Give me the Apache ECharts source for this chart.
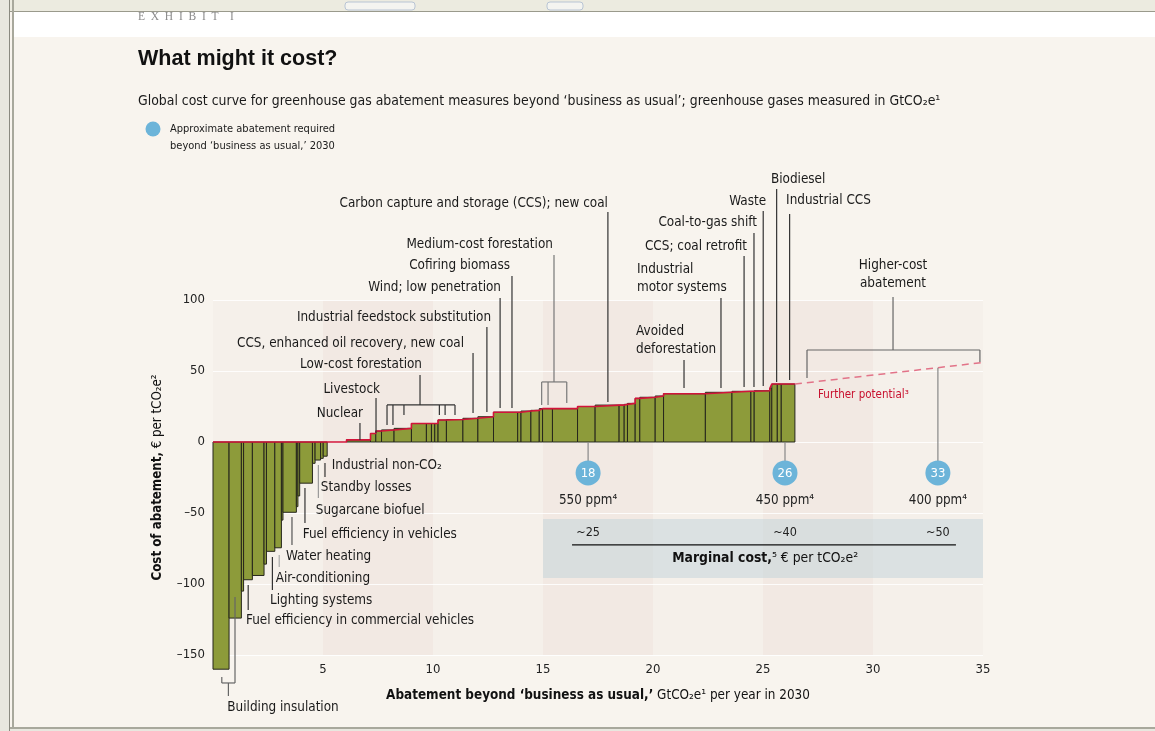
<!DOCTYPE html>
<html><head><meta charset="utf-8">
<script src="https://cdn.jsdelivr.net/npm/echarts@6/dist/echarts.min.js"></script>
<style>html,body{margin:0;padding:0;background:#f8f4ee}#c{width:1155px;height:731px}</style>
</head><body><div id="c"></div><script>
// ---------------- DATA ----------------
// abatement measures in curve order: width (GtCO2e per year) and cost (EUR per tCO2e)
const measureWidths = [0.73,0.56,0.10,0.40,0.53,0.11,0.38,0.30,0.07,0.61,0.07,0.08,0.58,0.12,0.25,0.12,0.18,
  0.88,
  1.09,0.24,0.26,0.57,0.79,0.68,0.23,0.15,0.15,0.38,0.75,0.68,0.71,1.10,0.15,0.45,0.38,0.15,0.45,1.14,0.80,1.09,0.23,0.15,
  0.35,0.21,0.70,0.38,1.90,1.21,0.86,0.15,0.71,0.09,0.25,0.18,0.62];
const measureCosts = [-160,-124,-105,-97,-94,-86,-77,-74.5,-55,-49.5,-45.5,-38,-29,-15,-12.7,-11.5,-10,
  0,
  1.5,6,7.7,8.5,9.6,13,13,13,13,15.5,15.8,16.7,17.8,21,21,21.8,22.3,23.5,23.5,23.5,25,26,26,26.5,
  27.2,30.7,31.5,32.4,34,35,35.7,35.7,36.1,37.8,40.8,40.8,40.8];
const furtherPotentialX = [26.45, 35];
const furtherPotentialY = [40.8, 56];
const requiredPos = [17.05, 26, 32.95];
const requiredLabels = ['18', '26', '33'];
const ppmLabels = ['550 ppm⁴', '450 ppm⁴', '400 ppm⁴'];
const marginalLabels = ['~25', '~40', '~50'];
const bandEdges = [0, 5, 10, 15, 20, 25, 30, 35];

// ---------------- LAYOUT (annotations, in data units) ----------------
const notes = [
 {t:'Nuclear', x:6.82, y:20.4, al:'right', v:[[6.68,13.4,1.4]]},
 {t:'Livestock', x:7.59, y:37.3, al:'right', v:[[7.41,31,6.3]]},
 {t:'Low-cost forestation', x:9.5, y:54.9, al:'right', v:[[9.41,47.2,26.1],[7.91,26.1,12],[8.18,26.1,12],[8.68,26.1,19],[10.29,26.1,19],[10.55,26.1,19],[11.0,26.1,19]], h:[[7.91,11.0,26.1]]},
 {t:'CCS, enhanced oil recovery, new coal', x:11.41, y:69.7, al:'right', v:[[11.82,62.7,20.4]]},
 {t:'Industrial feedstock substitution', x:12.64, y:88, al:'right', v:[[12.45,81,21.1]]},
 {t:'Wind; low penetration', x:13.09, y:108.5, al:'right', v:[[13.05,101.4,23.9]]},
 {t:'Cofiring biomass', x:13.5, y:124.6, al:'right', v:[[13.59,116.9,23.9]]},
 {t:'Medium-cost forestation', x:15.45, y:139.4, al:'right', v:[[15.5,131.7,42.3],[14.94,42.3,26.1],[15.23,42.3,26.1],[16.08,42.3,27.5]], h:[[14.94,16.08,42.3]], c:'#777'},
 {t:'Carbon capture and storage (CCS); new coal', x:17.95, y:167.6, al:'right', v:[[17.95,162,28.2]]},
 {t:'Avoided\ndeforestation', x:19.23, y:71.2, al:'left', v:[[21.41,57.7,38]]},
 {t:'Industrial\nmotor systems', x:19.27, y:114.8, al:'left', v:[[23.09,101.4,38]]},
 {t:'CCS; coal retrofit', x:24.27, y:138, al:'right', v:[[24.14,131,38.7]]},
 {t:'Coal-to-gas shift', x:24.73, y:154.9, al:'right', v:[[24.59,147.2,38.7]]},
 {t:'Waste', x:25.14, y:169.7, al:'right', v:[[25.01,162.7,39.4]]},
 {t:'Biodiesel', x:25.36, y:185.2, al:'left', v:[[25.62,178.2,42.3]]},
 {t:'Industrial CCS', x:26.05, y:170.4, al:'left', v:[[26.21,160.6,43.7]]},
 {t:'Higher-cost\nabatement', x:30.91, y:117.9, al:'center', v:[[30.91,102.1,64.8],[27,64.8,45.1],[34.86,64.8,56.3]], h:[[27,34.86,64.8]], c:'#666'},
 {t:'Industrial non-CO₂', x:5.4, y:-16.7, al:'left', v:[[5.09,-14.8,-24.6]]},
 {t:'Standby losses', x:4.9, y:-32.4, al:'left', v:[[4.79,-16.2,-39.4]], c:'#999'},
 {t:'Sugarcane biofuel', x:4.67, y:-48.6, al:'left', v:[]},
 {t:'Fuel efficiency in vehicles', x:4.08, y:-65.5, al:'left', v:[[4.18,-32.4,-57]]},
 {t:'Water heating', x:3.32, y:-80.3, al:'left', v:[[3.59,-52.8,-72.5]], c:'#555'},
 {t:'Air-conditioning', x:2.85, y:-95.8, al:'left', v:[[3.01,-79.6,-88]], c:'#aaa'},
 {t:'Lighting systems', x:2.59, y:-111.3, al:'left', v:[[2.7,-81,-104.2]]},
 {t:'Fuel efficiency in commercial vehicles', x:1.5, y:-126, al:'left', v:[[1.6,-100.7,-118.3]]},
 {t:'Building insulation', x:0.65, y:-187.3, al:'left', v:[[1.0,-109.2,-169.7],[0.4,-165.5,-169.7],[0.7,-169.7,-178.9]], h:[[0.4,1.0,-169.7]], c:'#666'}
];
const marginalBox = {x0:15, x1:35, y0:-54.2, y1:-95.8, lineY:-72.5, lineX0:16.32, lineX1:33.77, labelY:-64.1, titleX:25.1, titleY:-81.7};
const markerY = -21.8, ppmY = -41.5;

// ---------------- BUILD ----------------
const FONT = '"Liberation Sans Narrow","DejaVu Sans Condensed","Arial Narrow",sans-serif';
const NOTE_SIZE = 13.4;
const barData = [];
const stepData = [];
let cum = 0;
measureWidths.forEach((w, i) => {
  const c = measureCosts[i];
  barData.push([cum, cum + w, c]);
  stepData.push([cum, Math.max(0, c)], [cum + w, Math.max(0, c)]);
  cum += w;
});
const curveEnd = cum;
function furtherAt(x) {
  return furtherPotentialY[0] + (x - furtherPotentialX[0]) / (furtherPotentialX[1] - furtherPotentialX[0]) * (furtherPotentialY[1] - furtherPotentialY[0]);
}
const bandData = [];
for (let i = 0; i < bandEdges.length - 1; i++) bandData.push([bandEdges[i], bandEdges[i + 1], i % 2]);

function line(a, b, color, w) {
  return {type:'line', shape:{x1:a[0], y1:a[1], x2:b[0], y2:b[1]}, style:{stroke:color, lineWidth:w || 1}};
}

const chart = echarts.init(document.getElementById('c'));
chart.setOption({
  animation: false,
  backgroundColor: '#f8f4ee',
  grid: {left: 213, right: 172, top: 300, bottom: 76},
  xAxis: {
    type: 'value', min: 0, max: 35, interval: 5,
    axisLine: {show: false}, axisTick: {show: false}, splitLine: {show: false},
    axisLabel: {formatter: v => v === 0 ? '' : String(v), color: '#222', fontSize: 13, fontFamily: FONT, margin: 8},
    name: '{b|Abatement beyond ‘business as usual,’} GtCO₂e¹ per year in 2030',
    nameLocation: 'middle', nameGap: 34,
    nameTextStyle: {color: '#111', fontSize: 13.4, fontFamily: FONT, rich: {b: {fontWeight: 'bold', fontSize: 13.4, fontFamily: FONT, color: '#111'}}}
  },
  yAxis: {
    type: 'value', min: -150, max: 100, interval: 50,
    axisLine: {show: false}, axisTick: {show: false},
    splitLine: {show: true, lineStyle: {color: 'rgba(255,255,255,0.85)', width: 1}},
    axisLabel: {formatter: v => String(v).replace('-', '–'), color: '#222', fontSize: 13, fontFamily: FONT, margin: 8},
    name: '{b|Cost of abatement,} € per tCO₂e²',
    nameLocation: 'middle', nameGap: 49,
    nameTextStyle: {color: '#111', fontSize: 13.2, fontFamily: FONT, rich: {b: {fontWeight: 'bold', fontSize: 13.2, fontFamily: FONT, color: '#111'}}}
  },
  graphic: [
    {type:'rect', shape:{x:0, y:0, width:1155, height:11}, style:{fill:'#ecebe0'}, silent:true},
    {type:'rect', shape:{x:0, y:11, width:1155, height:1}, style:{fill:'#9a9a8c'}},
    {type:'rect', shape:{x:345, y:2, width:70, height:8, r:3}, style:{fill:'#f4f4f0', stroke:'#b8c4d4'}},
    {type:'rect', shape:{x:547, y:2, width:36, height:8, r:3}, style:{fill:'#f4f4f0', stroke:'#b8c4d4'}},
    {type:'rect', shape:{x:14, y:12, width:1141, height:25}, style:{fill:'#ffffff'}},
    {type:'rect', shape:{x:0, y:0, width:9, height:731}, style:{fill:'#e8e7df'}},
    {type:'rect', shape:{x:9, y:0, width:1, height:731}, style:{fill:'#8a8a80'}},
    {type:'rect', shape:{x:12, y:0, width:2, height:731}, style:{fill:'#a8a89c'}},
    {type:'rect', shape:{x:10, y:727, width:1145, height:2}, style:{fill:'#a8a89c'}},
    {type:'rect', shape:{x:10, y:729, width:1145, height:2}, style:{fill:'#e8e7df'}},
    {type:'text', style:{text:'E  X  H  I  B  I  T    I', x:138, y:17, verticalAlign:'middle', fontFamily:'"Liberation Serif",serif', fontSize:11.5, fill:'#8a8a8a'}},
    {type:'text', style:{text:'What might it cost?', x:138, y:59, verticalAlign:'middle', fontFamily:'"Liberation Sans",Arial,sans-serif', fontWeight:'bold', fontSize:21.5, fill:'#111'}},
    {type:'text', style:{text:'Global cost curve for greenhouse gas abatement measures beyond ‘business as usual’; greenhouse gases measured in GtCO₂e¹', x:138, y:101, verticalAlign:'middle', fontFamily:FONT, fontSize:13.9, fill:'#1a1a1a'}},
    {type:'circle', shape:{cx:153, cy:129, r:7.5}, style:{fill:'#6cb4d9'}},
    {type:'text', style:{text:'Approximate abatement required\nbeyond ‘business as usual,’ 2030', x:170, y:138, verticalAlign:'middle', fontFamily:FONT, fontSize:11, lineHeight:17, fill:'#1a1a1a'}}
  ],
  series: [
    { // background bands
      type: 'custom', z: -1, silent: true, clip: false,
      data: bandData, encode: {x: [0, 1]},
      renderItem: (p, api) => {
        const a = api.coord([api.value(0), 100]), b = api.coord([api.value(1), -150]);
        return {type:'rect', shape:{x:a[0], y:a[1], width:b[0]-a[0], height:b[1]-a[1]},
          style:{fill: api.value(2) ? '#f2e9e3' : '#f5f0ea'}};
      }
    },
    { // marginal cost box
      type: 'custom', z: 1, silent: true, clip: false,
      data: [[marginalBox.x0, marginalBox.y0]], encode: {x: 0, y: 1},
      renderItem: (p, api) => {
        const a = api.coord([marginalBox.x0, marginalBox.y0]), b = api.coord([marginalBox.x1, marginalBox.y1]);
        const children = [{type:'rect', shape:{x:a[0], y:a[1], width:b[0]-a[0], height:b[1]-a[1]}, style:{fill:'rgba(196,214,218,0.55)'}}];
        children.push(line(api.coord([marginalBox.lineX0, marginalBox.lineY]), api.coord([marginalBox.lineX1, marginalBox.lineY]), '#111', 1.2));
        requiredPos.forEach((x, i) => {
          const q = api.coord([x, marginalBox.labelY]);
          children.push({type:'text', style:{text:marginalLabels[i], x:q[0], y:q[1], align:'center', verticalAlign:'middle', fontFamily:FONT, fontSize:12.5, fill:'#222'}});
        });
        const t = api.coord([marginalBox.titleX, marginalBox.titleY]);
        children.push({type:'text', style:{text:'{b|Marginal cost,}⁵ € per tCO₂e²', x:t[0], y:t[1], align:'center', verticalAlign:'middle', fontFamily:FONT, fontSize:13.8, fill:'#111',
          rich:{b:{fontWeight:'bold', fontFamily:FONT, fontSize:13.8, fill:'#111'}}}});
        return {type:'group', children};
      }
    },
    { // abatement measures
      type: 'custom', z: 3, clip: false,
      data: barData, encode: {x: [0, 1], y: 2},
      renderItem: (p, api) => {
        const c = api.value(2);
        if (c === 0) return null;
        const a = api.coord([api.value(0), 0]), b = api.coord([api.value(1), c]);
        return {type:'rect', shape:{x:a[0], y:Math.min(a[1], b[1]), width:b[0]-a[0], height:Math.abs(b[1]-a[1])},
          style:{fill:'#8d9b3a', stroke:'#26261c', lineWidth:1}};
      }
    },
    { // curve outline
      type: 'line', z: 4, data: stepData, showSymbol: false, symbol: 'none',
      lineStyle: {color: '#d2143a', width: 1.6}
    },
    { // further potential
      type: 'line', z: 4, data: furtherPotentialX.map((x, i) => [x, furtherPotentialY[i]]), showSymbol: false, symbol: 'none',
      lineStyle: {color: '#e27388', width: 1.5, type: [7, 5]}
    },
    { // required abatement markers
      type: 'custom', z: 5, clip: false,
      data: requiredPos.map((x, i) => [x, markerY, i]), encode: {x: 0, y: 1},
      renderItem: (p, api) => {
        const i = p.dataIndex, x = requiredPos[i];
        const topY = x > curveEnd ? furtherAt(x) : 0;
        const c = api.coord([x, markerY]);
        const top = api.coord([x, topY]);
        const children = [
          line([c[0], top[1]], [c[0], c[1] - 12], '#888', 1.2),
          {type:'circle', shape:{cx:c[0], cy:c[1], r:12.5}, style:{fill:'#6cb4d9'}},
          {type:'text', style:{text:requiredLabels[i], x:c[0], y:c[1] + 1, align:'center', verticalAlign:'middle', fontFamily:FONT, fontSize:13, fill:'#fff'}}
        ];
        const q = api.coord([x, ppmY]);
        children.push({type:'text', style:{text:ppmLabels[i], x:q[0], y:q[1], align:'center', verticalAlign:'middle', fontFamily:FONT, fontSize:13.3, fill:'#222'}});
        return {type:'group', children};
      }
    },
    { // further potential label
      type: 'custom', z: 5, clip: false,
      data: [[27.5, 33.1]], encode: {x: 0, y: 1},
      renderItem: (p, api) => {
        const q = api.coord([api.value(0), api.value(1)]);
        return {type:'text', style:{text:'Further potential³', x:q[0], y:q[1], verticalAlign:'middle', fontFamily:FONT, fontSize:11.5, fill:'#c8102e'}};
      }
    },
    { // annotations with leader lines
      type: 'custom', z: 6, clip: false, silent: true,
      data: notes.map((n, i) => [n.x, n.y, i]), encode: {x: 0, y: 1},
      renderItem: (p, api) => {
        const n = notes[p.dataIndex];
        const col = n.c || '#333';
        const q = api.coord([n.x, n.y]);
        const children = [{type:'text', style:{text:n.t, x:q[0], y:q[1], align:n.al, verticalAlign:'middle', fontFamily:FONT, fontSize:NOTE_SIZE, lineHeight:18, fill:'#1a1a1a'}}];
        (n.v || []).forEach(v => children.push(line(api.coord([v[0], v[1]]), api.coord([v[0], v[2]]), col, 1.2)));
        (n.h || []).forEach(h => children.push(line(api.coord([h[0], h[2]]), api.coord([h[1], h[2]]), col, 1.2)));
        return {type:'group', children};
      }
    }
  ]
});
</script></body></html>
